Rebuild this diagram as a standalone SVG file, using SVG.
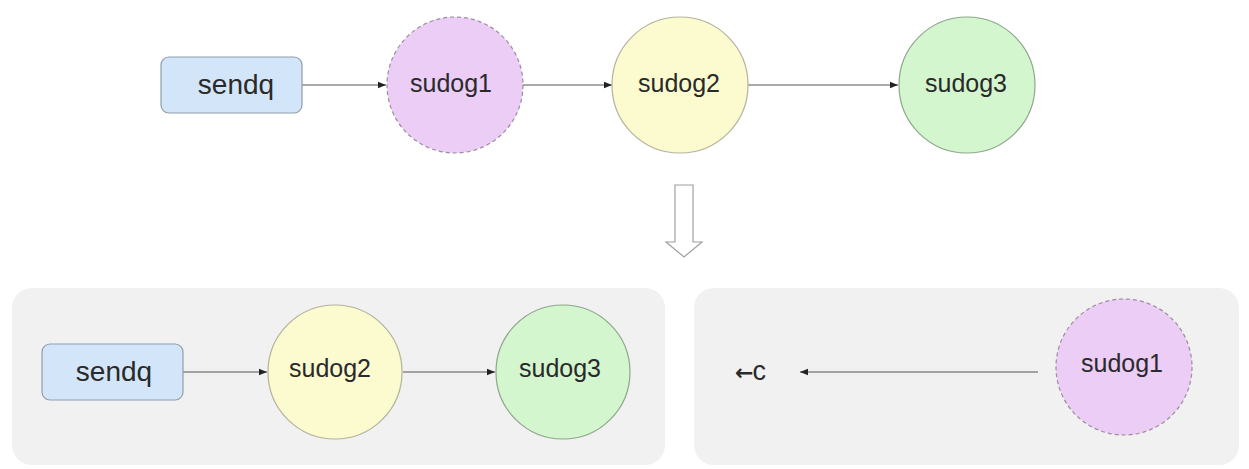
<svg xmlns="http://www.w3.org/2000/svg" width="1249" height="469" viewBox="0 0 1249 469">
<style>
.bg{fill:#ffffff}
.panel{fill:#f1f1f1}
.box{fill:#d3e6f9;stroke:#8f9dab;stroke-width:1.2}
.s1{fill:#ebcdf6;stroke:#9c8c9e;stroke-width:1.2;stroke-dasharray:4 3}
.s2{fill:#fcfbd0;stroke:#b3b29b;stroke-width:1.2}
.s3{fill:#d3f6cf;stroke:#8ea68b;stroke-width:1.2}
.lbl{font-family:"Liberation Sans",Arial,sans-serif;fill:#2a2a2a;text-anchor:middle}
.big{font-size:28px}
.mid{font-size:25px}
.conn{stroke:#555;stroke-width:1.1;fill:none;marker-end:url(#ah)}
.hollow{fill:#ffffff;stroke:#a0a0a0;stroke-width:1.2}
</style>
<defs>
<marker id="ah" viewBox="0 0 10 10" refX="10" refY="5" markerWidth="8" markerHeight="8" markerUnits="userSpaceOnUse" orient="auto">
<path d="M0,1 L10,5 L0,9 Z" fill="#222"/>
</marker>
</defs>
<rect class="bg" x="0" y="0" width="1249" height="469"/>
<rect id="panel-left" class="panel" x="12" y="288" width="653" height="177" rx="20"/>
<rect id="panel-right" class="panel" x="694" y="288" width="545" height="177" rx="20"/>
<g id="connectors">
<line class="conn" x1="302" y1="85" x2="386" y2="85"/>
<line class="conn" x1="522" y1="85" x2="612" y2="85"/>
<line class="conn" x1="748" y1="85" x2="898" y2="85"/>
<line class="conn" x1="183" y1="372" x2="267" y2="372"/>
<line class="conn" x1="403" y1="372" x2="495" y2="372"/>
<line class="conn" x1="1038" y1="372" x2="800" y2="372"/>
</g>
<g id="transform-arrow">
<path class="hollow" d="M675,185 L693,185 L693,242 L702,242 L684,257 L666,242 L675,242 Z"/>
</g>
<g id="sendq-top">
<rect class="box" x="161" y="57" width="141" height="56" rx="8"/>
<text class="lbl big" x="236" y="94">sendq</text>
</g>
<g id="sudog1-top">
<circle class="s1" cx="455" cy="85" r="68"/>
<text class="lbl mid" x="451" y="92">sudog1</text>
</g>
<g id="sudog2-top">
<circle class="s2" cx="680" cy="85" r="68"/>
<text class="lbl mid" x="679" y="92">sudog2</text>
</g>
<g id="sudog3-top">
<circle class="s3" cx="967" cy="85" r="68"/>
<text class="lbl mid" x="966" y="92">sudog3</text>
</g>
<g id="sendq-bottom">
<rect class="box" x="42" y="344" width="141" height="56" rx="8"/>
<text class="lbl big" x="114" y="381">sendq</text>
</g>
<g id="sudog2-bottom">
<circle class="s2" cx="335" cy="372" r="67"/>
<text class="lbl mid" x="330" y="377">sudog2</text>
</g>
<g id="sudog3-bottom">
<circle class="s3" cx="563" cy="372" r="67"/>
<text class="lbl mid" x="560" y="377">sudog3</text>
</g>
<g id="sudog1-bottom">
<circle class="s1" cx="1124" cy="367" r="68"/>
<text class="lbl mid" x="1122" y="372">sudog1</text>
</g>
<g id="channel-label">
<text class="lbl" x="735" y="380" font-size="27" style="text-anchor:start"><tspan font-family="DejaVu Sans" font-size="22" font-weight="bold">←</tspan><tspan dx="-1">c</tspan></text>
</g>
</svg>
